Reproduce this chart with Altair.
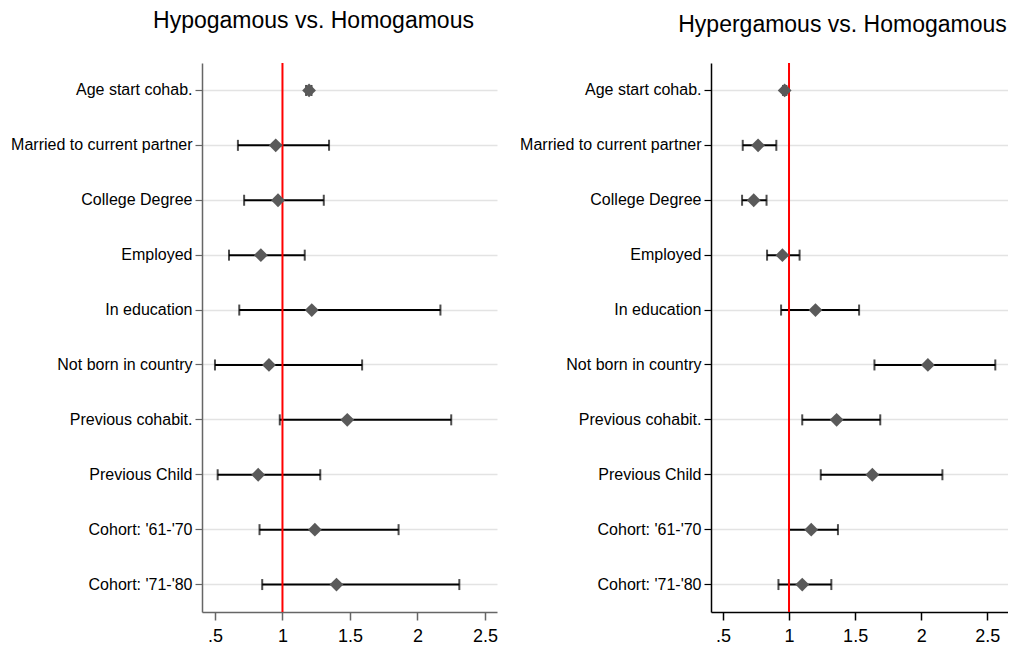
import altair as alt
import pandas as pd

categories = ["Age start cohab.", "Married to current partner", "College Degree", "Employed",
              "In education", "Not born in country", "Previous cohabit.", "Previous Child",
              "Cohort: '61-'70", "Cohort: '71-'80"]

hypo_est = [1.197, 0.95, 0.967, 0.84, 1.217, 0.90, 1.48, 0.82, 1.24, 1.40]
hypo_lo = [1.175, 0.67, 0.716, 0.604, 0.68, 0.50, 0.98, 0.52, 0.83, 0.85]
hypo_hi = [1.215, 1.345, 1.306, 1.165, 2.17, 1.59, 2.25, 1.28, 1.86, 2.31]

hyper_est = [0.967, 0.766, 0.733, 0.95, 1.20, 2.05, 1.36, 1.63, 1.168, 1.10]
hyper_lo = [0.955, 0.65, 0.645, 0.834, 0.94, 1.646, 1.10, 1.24, 1.0, 0.92]
hyper_hi = [0.98, 0.904, 0.83, 1.08, 1.53, 2.56, 1.69, 2.16, 1.37, 1.32]

tick_values = [0.5, 1, 1.5, 2, 2.5]
tick_labels = [".5", "1", "1.5", "2", "2.5"]
ref_value = [1]

FONT = "Liberation Sans"

label_expr = " : ".join(
    [f"datum.value == {v} ? '{l}'" for v, l in zip(tick_values, tick_labels)] + ["''"]
)


def panel(title, est, lo, hi, domain, width, axis_color, dx, offset):
    df = pd.DataFrame({"cat": categories, "est": est, "lo": lo, "hi": hi})
    ref = pd.DataFrame({"x": ref_value})
    xscale = alt.Scale(domain=domain, nice=False, zero=False)
    yscale = alt.Scale(domain=categories, padding=0)
    xaxis = alt.Axis(values=tick_values, labelExpr=label_expr, title=None, grid=False,
                     domainColor=axis_color, tickColor=axis_color, tickSize=8,
                     labelPadding=7, labelFontSize=18, labelFont=FONT, labelColor="black",
                     domainWidth=1.5, tickWidth=1.5)
    yaxis = alt.Axis(title=None, grid=True, gridColor="#e3e3e3", gridWidth=1.5,
                     domainColor=axis_color, tickColor=axis_color, tickSize=7,
                     labelPadding=3, labelFontSize=16, labelFont=FONT, labelColor="black",
                     labelLimit=400, domainWidth=1.5, tickWidth=1.2, bandPosition=0.5)
    base = alt.Chart(df)
    bars = base.mark_rule(color="black", strokeWidth=2).encode(
        x=alt.X("lo:Q", scale=xscale, axis=xaxis),
        x2="hi:Q",
        y=alt.Y("cat:N", scale=yscale, axis=yaxis, sort=categories),
    )
    cap_lo = base.mark_tick(color="black", thickness=2, size=11).encode(
        x=alt.X("lo:Q", scale=xscale), y=alt.Y("cat:N", scale=yscale, sort=categories))
    cap_hi = base.mark_tick(color="black", thickness=2, size=11).encode(
        x=alt.X("hi:Q", scale=xscale), y=alt.Y("cat:N", scale=yscale, sort=categories))
    redline = alt.Chart(ref).mark_rule(color="#ff0000", strokeWidth=2).encode(
        x=alt.X("x:Q", scale=xscale))
    pts = base.mark_point(shape="diamond", filled=True, color="#5a5a5a", size=190,
                          opacity=1).encode(
        x=alt.X("est:Q", scale=xscale), y=alt.Y("cat:N", scale=yscale, sort=categories))
    return alt.layer(bars, cap_lo, cap_hi, redline, pts).properties(
        width=width, height=549,
        title=alt.TitleParams(text=title, fontSize=23, font=FONT, fontWeight="normal",
                              anchor="middle", frame="group", dx=dx, offset=offset,
                              color="black"),
    )


left = panel("Hypogamous vs. Homogamous", hypo_est, hypo_lo, hypo_hi,
             [0.404, 2.589], 295, "#666666", -36, 29)
right = panel("Hypergamous vs. Homogamous", hyper_est, hyper_lo, hyper_hi,
              [0.41, 2.656], 297, "black", -17, 25)

chart = alt.hconcat(left, right, spacing=21).configure_view(stroke=None).properties(
    padding={"left": 2, "top": 2, "right": 0, "bottom": 0},
    background="white",
)

chart.save("out.html", embed_options={"renderer": "svg", "actions": False})
